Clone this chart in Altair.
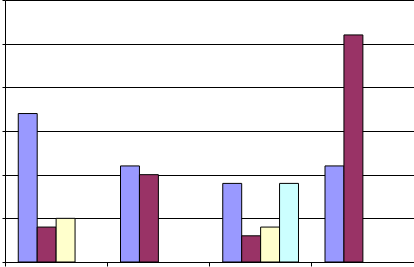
import altair as alt
import pandas as pd

categories = ["Q1", "Q2", "Q3", "Q4"]
series_names = ["Series 1", "Series 2", "Series 3", "Series 4"]
series1 = [34, 22, 18, 22]
series2 = [8, 20, 6, 52]
series3 = [10, None, 8, None]
series4 = [None, None, 18, None]
colors = ["#9999FF", "#993366", "#FFFFCC", "#CCFFFF"]

rows = []
for name, vals in zip(series_names, [series1, series2, series3, series4]):
    for cat, v in zip(categories, vals):
        if v is not None:
            rows.append({"category": cat, "series": name, "value": v})
df = pd.DataFrame(rows)

chart = alt.Chart(df).mark_bar(stroke="black", strokeWidth=1).encode(
    x=alt.X("category:N", sort=categories,
            scale=alt.Scale(paddingInner=0, paddingOuter=0),
            axis=alt.Axis(title=None, labels=False, tickSize=4, tickColor="black",
                          domainColor="black", bandPosition=0, grid=False)),
    xOffset=alt.XOffset("series:N", sort=series_names,
                        scale=alt.Scale(domain=series_names, paddingInner=0, paddingOuter=0.7)),
    y=alt.Y("value:Q", scale=alt.Scale(domain=[0, 60], nice=False),
            axis=alt.Axis(title=None, labels=False, values=[0, 10, 20, 30, 40, 50, 60],
                          tickSize=3, tickColor="black", domainColor="black",
                          grid=True, gridColor="black", gridOpacity=1, gridWidth=1)),
    color=alt.Color("series:N", sort=series_names,
                    scale=alt.Scale(domain=series_names, range=colors), legend=None),
).properties(
    width=409,
    height=262,
    autosize=alt.AutoSizeParams(type="none"),
    padding={"left": 5, "top": 0, "right": 0, "bottom": 5},
    background="white",
).configure_view(stroke="transparent")

chart.save("out.html", embed_options={"renderer": "svg", "actions": False})
